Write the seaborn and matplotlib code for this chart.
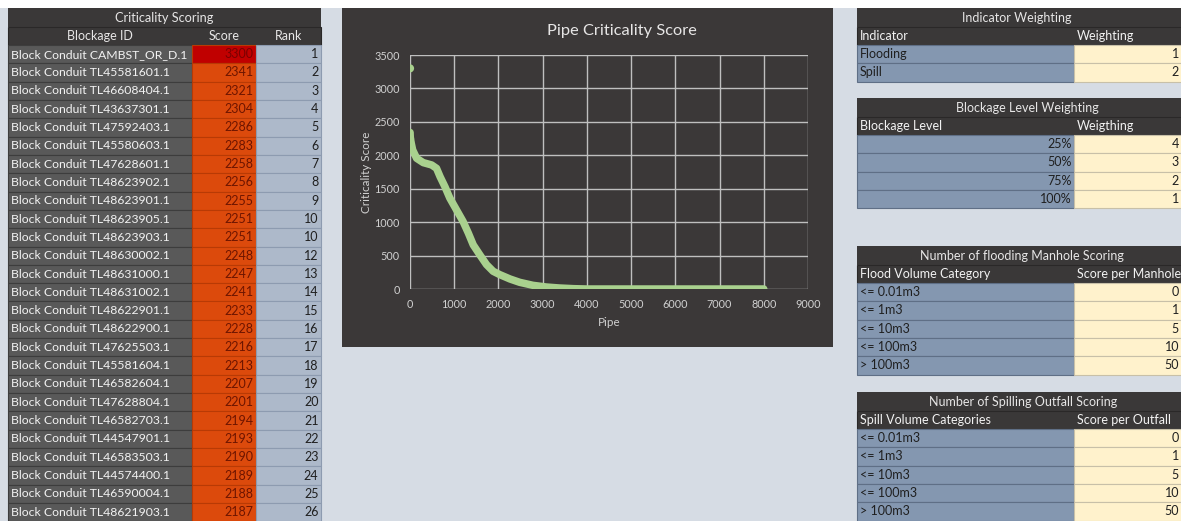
import matplotlib
matplotlib.use("Agg")
import matplotlib.pyplot as plt
from matplotlib.patches import Rectangle
import pandas as pd
import seaborn as sns

# ---------------- data ----------------
block_ids = [
    "Block Conduit CAMBST_OR_D.1", "Block Conduit TL45581601.1", "Block Conduit TL46608404.1",
    "Block Conduit TL43637301.1", "Block Conduit TL47592403.1", "Block Conduit TL45580603.1",
    "Block Conduit TL47628601.1", "Block Conduit TL48623902.1", "Block Conduit TL48623901.1",
    "Block Conduit TL48623905.1", "Block Conduit TL48623903.1", "Block Conduit TL48630002.1",
    "Block Conduit TL48631000.1", "Block Conduit TL48631002.1", "Block Conduit TL48622901.1",
    "Block Conduit TL48622900.1", "Block Conduit TL47625503.1", "Block Conduit TL45581604.1",
    "Block Conduit TL46582604.1", "Block Conduit TL47628804.1", "Block Conduit TL46582703.1",
    "Block Conduit TL44547901.1", "Block Conduit TL46583503.1", "Block Conduit TL44574400.1",
    "Block Conduit TL46590004.1", "Block Conduit TL48621903.1",
]
scores = [3300, 2341, 2321, 2304, 2286, 2283, 2258, 2256, 2255, 2251, 2251, 2248, 2247,
          2241, 2233, 2228, 2216, 2213, 2207, 2201, 2194, 2193, 2190, 2189, 2188, 2187]
ranks = [1, 2, 3, 4, 5, 6, 7, 8, 9, 10, 10, 12, 13, 14, 15, 16, 17, 18, 19, 20,
         21, 22, 23, 24, 25, 26]

# remaining curve (pipe index, score)
tail_pipe = [60, 150, 300, 490, 600, 680, 790, 900, 1050, 1200, 1320, 1430, 1580,
             1730, 1880, 2030, 2260, 2480, 2780, 3080, 3380, 3700, 4000, 5000,
             6000, 7000, 8000]
tail_score = [2080, 1955, 1890, 1855, 1805, 1680, 1530, 1360, 1185, 1010, 835, 660, 510,
              365, 265, 215, 150, 100, 55, 30, 15, 5, 0, 0, 0, 0, 0]

indicators = ["Flooding", "Spill"]
indicator_weights = [1, 2]
blockage_levels = ["25%", "50%", "75%", "100%"]
blockage_weights = [4, 3, 2, 1]
flood_categories = ["<= 0.01m3", "<= 1m3", "<= 10m3", "<= 100m3", "> 100m3"]
flood_scores = [0, 1, 5, 10, 50]
spill_categories = ["<= 0.01m3", "<= 1m3", "<= 10m3", "<= 100m3", "> 100m3"]
spill_scores = [0, 1, 5, 10, 50]

# ---------------- style ----------------
sns.set_style("white")
plt.rcParams["font.family"] = ["Lato", "DejaVu Sans"]

BG = "#d6dce4"
DARK = "#3a3838"
IDC = "#595959"
RED = "#c00000"
ORANGE = "#dc4a0c"
RANKC = "#adb9ca"
BLUEG = "#8497b0"
YEL = "#fff2cc"
GREEN = "#a9d18e"
FS = 9.0

W, H = 1181, 521
fig = plt.figure(figsize=(W / 100, H / 100), dpi=100)
fig.patch.set_facecolor(BG)
bg = fig.add_axes([0, 0, 1, 1])
bg.set_xlim(0, W)
bg.set_ylim(H, 0)
bg.axis("off")
bg.add_patch(Rectangle((0, 0), W, 8, fc="white", ec="none"))


def cell(x, y, w, h, fc, ec="none", lw=0.8):
    bg.add_patch(Rectangle((x, y), w, h, fc=fc, ec=ec, lw=lw))


# ---------------- left table ----------------
L0, L1, L2, L3 = 8, 192, 256, 321
RH = 18.32
cell(L0, 8, L3 - L0, 19, DARK)
bg.text((L0 + L3) / 2, 17.5, "Criticality Scoring", ha="center", va="center",
        color="#e7e6e6", fontsize=FS + 0.2)
cell(L0, 27, L3 - L0, 18, DARK, ec="#2a2828")
for xc, lab in [((L0 + L1) / 2, "Blockage ID"), ((L1 + L2) / 2, "Score"), ((L2 + L3) / 2, "Rank")]:
    bg.text(xc, 36, lab, ha="center", va="center", color="#e7e6e6", fontsize=FS)
for i, (bid, sc, rk) in enumerate(zip(block_ids, scores, ranks)):
    y = 45 + i * RH
    cell(L0, y, L1 - L0, RH, IDC, ec="#3d3d3d")
    sc_fc = RED if sc >= 3000 else ORANGE
    cell(L1, y, L2 - L1, RH, sc_fc, ec="#b83a05")
    cell(L2, y, L3 - L2, RH, RANKC, ec="#8d9bb0")
    bg.text(L0 + 3, y + RH / 2, bid, ha="left", va="center", color="#f2f2f2", fontsize=8.8)
    bg.text(L2 - 2.5, y + RH / 2, str(sc), ha="right", va="center",
            color="#7a0000" if sc >= 3000 else "#6e1500", fontsize=FS)
    bg.text(L3 - 2.5, y + RH / 2, str(rk), ha="right", va="center", color="#1f1f1f", fontsize=FS)

# ---------------- right tables ----------------
R0, R1, R2 = 857, 1074, 1200


def right_table(y0, title, tcx, head, labels, values, label_right=False):
    cell(R0, y0, R2 - R0, 19, DARK)
    bg.text(tcx, y0 + 9.5, title, ha="center", va="center", color="#e7e6e6", fontsize=FS)
    cell(R0, y0 + 19, R2 - R0, 18, DARK, ec="#2a2828")
    bg.text(R0 + 3, y0 + 28, head[0], ha="left", va="center", color="#f2f2f2", fontsize=FS)
    bg.text(R1 + 3, y0 + 28, head[1], ha="left", va="center", color="#f2f2f2", fontsize=FS)
    for i, (lab, v) in enumerate(zip(labels, values)):
        y = y0 + 37 + i * RH
        cell(R0, y, R1 - R0, RH, BLUEG, ec="#5f6f86")
        cell(R1, y, R2 - R1, RH, YEL, ec="#c8c0a8")
        if label_right:
            bg.text(R1 - 2, y + RH / 2, lab, ha="right", va="center", color="#1f1f1f", fontsize=FS)
        else:
            bg.text(R0 + 3, y + RH / 2, lab, ha="left", va="center", color="#1f1f1f", fontsize=FS)
        bg.text(1179, y + RH / 2, str(v), ha="right", va="center", color="#1f1f1f", fontsize=FS)


right_table(8, "Indicator Weighting", 1017, ("Indicator", "Weighting"), indicators, indicator_weights)
right_table(98, "Blockage Level Weighting", 1027, ("Blockage Level", "Weigthing"),
            blockage_levels, blockage_weights, label_right=True)
right_table(246, "Number of flooding Manhole Scoring", 1022,
            ("Flood Volume Category", "Score per Manhole"), flood_categories, flood_scores)
right_table(392, "Number of Spilling Outfall Scoring", 1023,
            ("Spill Volume Categories", "Score per Outfall"), spill_categories, spill_scores)

# ---------------- chart ----------------
cell(342, 8, 833 - 342, 339, "#3b3838")
ax = fig.add_axes([410 / W, 1 - 289 / H, 398 / W, 234 / H])
ax.set_facecolor("none")

top = pd.DataFrame({"Pipe": list(range(1, len(scores) + 1)), "Score": scores})
tail = pd.DataFrame({"Pipe": tail_pipe, "Score": tail_score})
curve = pd.concat([top.iloc[1:], tail], ignore_index=True)

sns.lineplot(data=curve, x="Pipe", y="Score", ax=ax, color=GREEN, linewidth=5.4,
             estimator=None, sort=False, solid_capstyle="round", solid_joinstyle="round")
sns.scatterplot(data=top.iloc[:1], x="Pipe", y="Score", ax=ax, color=GREEN, s=34,
                edgecolor="none")

ax.set_xlim(0, 9000)
ax.set_ylim(0, 3500)
ax.set_xticks(range(0, 9001, 1000))
ax.set_yticks(range(0, 3501, 500))
ax.grid(True, color="#bfbfbf", linewidth=1.0)
ax.set_axisbelow(True)
for s in ax.spines.values():
    s.set_visible(False)
ax.tick_params(length=0, labelsize=7.8, labelcolor="#d0d0d0", pad=7.5)
ax.set_xlabel("Pipe", color="#d0d0d0", fontsize=8.4)
ax.set_ylabel("Criticality Score", color="#d0d0d0", fontsize=8.4)
ax.xaxis.set_label_coords(0.5, -0.12)
ax.yaxis.set_label_coords(-0.095, 0.5)
ax.text(0.533, 1.103, "Pipe Criticality Score", transform=ax.transAxes, ha="center",
        va="center", color="#e7e6e6", fontsize=11.8)

fig.savefig("out.png", dpi=100, facecolor=fig.get_facecolor())
